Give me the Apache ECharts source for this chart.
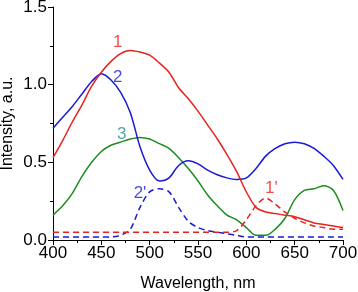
<!DOCTYPE html>
<html>
<head>
<meta charset="utf-8">
<script src="https://cdn.jsdelivr.net/npm/echarts@6/dist/echarts.min.js"></script>
<style>
  html, body { margin: 0; padding: 0; background: #fff; }
  #chart { width: 358px; height: 292px; }
</style>
</head>
<body>
<div id="chart"></div>
<script>
// wavelength grid, nm
const wavelengths = [400, 410, 420, 430, 440, 450, 460, 470, 480, 490, 500, 510, 520, 530, 540, 550,
  560, 570, 580, 590, 600, 610, 620, 630, 640, 650, 660, 670, 680, 690, 700]

// curve 1 (red, solid)
const curve1 = [0.53, 0.64, 0.76, 0.87, 0.99, 1.08, 1.15, 1.20, 1.22, 1.21, 1.19, 1.14, 1.08, 0.98, 0.91,
  0.83, 0.74, 0.65, 0.55, 0.44, 0.31, 0.21, 0.18, 0.17, 0.16, 0.15, 0.13, 0.11, 0.10, 0.09, 0.08]
// curve 2 (blue, solid)
const curve2 = [0.72, 0.79, 0.86, 0.94, 1.02, 1.07, 1.03, 0.95, 0.82, 0.60, 0.45, 0.38, 0.40, 0.48, 0.51,
  0.49, 0.45, 0.42, 0.40, 0.39, 0.40, 0.46, 0.54, 0.59, 0.62, 0.63, 0.62, 0.59, 0.54, 0.48, 0.39]
// curve 3 (green, solid)
const curve3 = [0.16, 0.22, 0.30, 0.41, 0.50, 0.57, 0.61, 0.63, 0.65, 0.66, 0.65, 0.62, 0.59, 0.53, 0.46,
  0.38, 0.29, 0.22, 0.16, 0.13, 0.08, 0.03, 0.03, 0.07, 0.14, 0.26, 0.32, 0.33, 0.35, 0.32, 0.19]
// curve 1' (red, dashed)
const curve1p = [0.05, 0.05, 0.05, 0.05, 0.05, 0.05, 0.05, 0.05, 0.05, 0.05, 0.05, 0.05, 0.05, 0.05, 0.05,
  0.05, 0.05, 0.05, 0.05, 0.06, 0.13, 0.22, 0.27, 0.23, 0.18, 0.14, 0.11, 0.09, 0.08, 0.07, 0.07]
// curve 2' (blue, dashed)
const curve2p = [0.02, 0.02, 0.02, 0.02, 0.02, 0.02, 0.02, 0.03, 0.07, 0.21, 0.31, 0.33, 0.31, 0.21, 0.12,
  0.08, 0.06, 0.05, 0.04, 0.03, 0.02, 0.02, 0.02, 0.02, 0.02, 0.02, 0.02, 0.02, 0.02, 0.02, 0.02]

// curve labels: [text, wavelength, intensity, colour]
const curveLabels = [
  ['1', 467, 1.27, '#e8231f'],
  ['2', 467, 1.045, '#1a1ad6'],
  ['3', 471, 0.68, '#2a9090'],
  ["2'", 490, 0.30, '#1a1ad6'],
  ["1'", 626, 0.335, '#e8231f']
]

const font = 'Liberation Sans, Arial, Helvetica, sans-serif'
const chart = echarts.init(document.getElementById('chart'))

function pairs(vals) {
  return wavelengths.map((w, i) => [w, vals[i]])
}

function lineSeries(name, vals, color, dashed) {
  return {
    name: name,
    type: 'line',
    data: pairs(vals),
    showSymbol: false,
    smooth: 0.3,
    animation: false,
    lineStyle: { color: color, width: 1.5, type: dashed ? [6, 4] : 'solid' },
    z: dashed ? 3 : 2
  }
}

const series = [
  lineSeries('2p', curve2p, '#1a1ad6', true),
  lineSeries('1p', curve1p, '#e8231f', true),
  lineSeries('3', curve3, '#1e8c1e', false),
  lineSeries('2', curve2, '#1a1ad6', false),
  lineSeries('1', curve1, '#e8231f', false),
  {
    // text labels placed in data space
    type: 'scatter',
    symbolSize: 0,
    animation: false,
    silent: true,
    data: curveLabels.map(l => ({
      value: [l[1], l[2]],
      label: { show: true, position: 'inside', formatter: l[0], color: l[3], fontSize: 17, fontFamily: font }
    }))
  }
]

const axisCommon = {
  axisLine: { show: true, lineStyle: { color: '#000', width: 1 } },
  axisTick: { show: true, inside: false, length: 5, lineStyle: { color: '#000' } },
  minorTick: { show: true, splitNumber: 2, length: 3, lineStyle: { color: '#000' } },
  splitLine: { show: false },
  axisLabel: { color: '#000', fontSize: 17, fontFamily: font },
  nameTextStyle: { color: '#000', fontSize: 16, fontFamily: font },
  nameMoveOverlap: false
}

chart.setOption({
  backgroundColor: '#fff',
  animation: false,
  grid: { left: 53, right: 15, top: 7, bottom: 52, outerBoundsMode: 'none', containLabel: false },
  xAxis: Object.assign({}, axisCommon, {
    type: 'value',
    min: 400,
    max: 700,
    interval: 50,
    name: 'Wavelength, nm',
    nameLocation: 'middle',
    nameGap: 36,
    axisLabel: Object.assign({}, axisCommon.axisLabel, { margin: 5 })
  }),
  yAxis: Object.assign({}, axisCommon, {
    type: 'value',
    min: 0,
    max: 1.5,
    interval: 0.5,
    name: 'Intensity, a.u.',
    nameLocation: 'middle',
    nameGap: 37,
    axisLabel: Object.assign({}, axisCommon.axisLabel, {
      margin: 6,
      formatter: v => v.toFixed(1)
    })
  }),
  series: series
})
</script>
</body>
</html>
